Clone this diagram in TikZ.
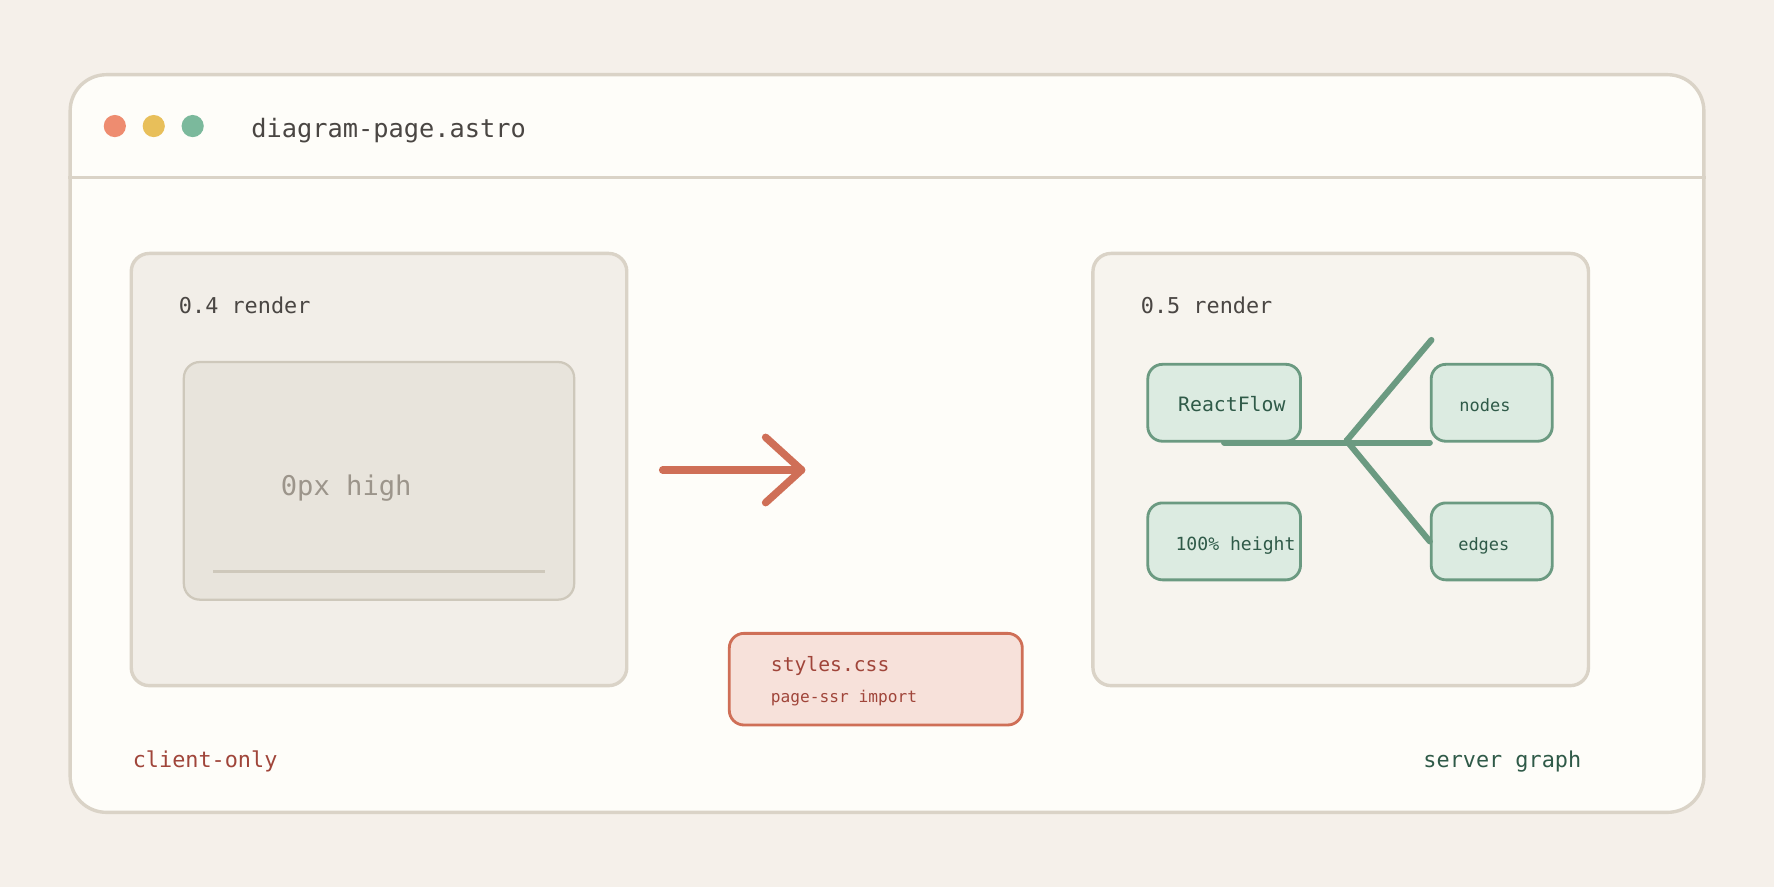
\documentclass[tikz,border=0pt]{standalone}
\usepackage{fontspec}
\setmonofont{DejaVu Sans Mono}
\usetikzlibrary{positioning,calc}

\definecolor{bg}{HTML}{F5F0EA}
\definecolor{paper}{HTML}{FEFDF9}
\definecolor{rim}{HTML}{DAD3C7}
\definecolor{panelL}{HTML}{F2EEE8}
\definecolor{panelR}{HTML}{F7F4EE}
\definecolor{shell}{HTML}{E8E4DC}
\definecolor{shellrim}{HTML}{CEC8BB}
\definecolor{ghost}{HTML}{9C958B}
\definecolor{ink}{HTML}{4A4643}
\definecolor{rust}{HTML}{CF6F57}
\definecolor{rustfill}{HTML}{F7E1DA}
\definecolor{rustink}{HTML}{A0453A}
\definecolor{sage}{HTML}{6B9A81}
\definecolor{sagefill}{HTML}{DCEBE1}
\definecolor{sageink}{HTML}{2F5A48}
\definecolor{dotred}{HTML}{EE8C70}
\definecolor{dotyel}{HTML}{E8BF5A}
\definecolor{dotgrn}{HTML}{7BB99C}

\newcommand{\mono}[1]{\ttfamily\fontsize{#1}{#1}\selectfont}

\tikzstyle{win} = [rectangle, draw=rim, fill=paper, line width=1.5pt,
    rounded corners=16pt, inner sep=0pt, minimum width=722pt, minimum height=326pt]
\tikzstyle{panel} = [rectangle, draw=rim, line width=1.5pt,
    rounded corners=8pt, inner sep=0pt, minimum width=219pt, minimum height=191pt]
\tikzstyle{gbox} = [rectangle, draw=sage, fill=sagefill, line width=1.25pt,
    rounded corners=6.5pt, inner sep=0pt, minimum height=34pt]
\tikzstyle{dot} = [circle, inner sep=0pt, minimum size=9.8pt]
\tikzstyle{lbl} = [anchor=base west, inner sep=0pt, text=ink, font=\mono{9.65}]
\tikzstyle{gtxt} = [anchor=base west, inner sep=0pt, text=sageink]

\begin{document}
\begin{tikzpicture}[x=0.5pt,y=-0.5pt,line cap=round,line join=round,
                    branch/.style={draw=sage,line width=2.7pt}]

  \useasboundingbox (0,0) rectangle (1568,784);
  \fill[bg] (0,0) rectangle (1568,784);

  \node[win]                  (window) at (784,392) {};
  \draw[rim,line width=1.5pt,line cap=butt] (window.west |- 0,157) -- (window.east |- 0,157);

  \node[dot,fill=dotred]      (close) at (101.5,111.4) {};
  \node[dot,fill=dotyel]      (mini)  [right=7pt of close] {};
  \node[dot,fill=dotgrn]      (zoom)  [right=7pt of mini] {};
  \node[lbl,font=\mono{11.2}] (title) at (221.7,121.4) {diagram-page.astro};

  \node[panel,fill=panelL]    (old) at (335,415) {};
  \node[panel,fill=panelR]    (new) at (1185,415) {};
  \node[lbl]                  (oldlab) at (157.8,277.5) {0.4 render};
  \node[lbl]                  (newlab) at (1008,277.5) {0.5 render};

  \node[rectangle,draw=shellrim,fill=shell,line width=1pt,rounded corners=7pt,
        minimum width=172.5pt,minimum height=105pt] (shell) at (335,425) {};
  \node[lbl,text=ghost,font=\mono{12}] (zero) at (247.8,438) {0px high};
  \draw[shellrim,line width=1.3pt,line cap=butt] ($(shell.south west)+(27,-26)$) -- ($(shell.south east)+(-27,-26)$);

  \coordinate (a0) at (585.7,415.4);
  \coordinate (a1) at (708.5,415.4);
  \draw[rust,line width=3.3pt] (a0) -- (a1);
  \draw[rust,line width=3.3pt] ($(a1)+(-31.8,-28.9)$) -- (a1) -- ($(a1)+(-31.8,28.9)$);

  \node[rectangle,draw=rust,fill=rustfill,line width=1.25pt,rounded corners=6.5pt,
        minimum width=129.5pt,minimum height=40.5pt] (css) at (774.1,600.3) {};
  \node[lbl,text=rustink,font=\mono{8.7}]  (csslab) at (681,593.7) {styles.css};
  \node[lbl,text=rustink,font=\mono{7.15}] (cssnote) at (681,621) {page-ssr import};

  \node[gbox,minimum width=67.5pt] (rf)     at (1082,356) {};
  \node[gbox,minimum width=53.5pt] (nodes)  [right=56.5pt of rf] {};
  \node[gbox,minimum width=67.5pt] (height) [below=26pt of rf] {};
  \node[gbox,minimum width=53.5pt] (edges)  [below=26pt of nodes] {};

  \node[gtxt,font=\mono{8.75}] (rflab)     at ($(rf.west)+(27.7,7.9)$) {ReactFlow};
  \node[gtxt,font=\mono{7.5}]  (nodeslab)  at ($(nodes.west)+(25.8,7.9)$) {nodes};
  \node[gtxt,font=\mono{8}]    (heightlab) at ($(height.west)+(25.4,8)$) {100\% height};
  \node[gtxt,font=\mono{7.5}]  (edgeslab)  at ($(edges.west)+(24.8,8)$) {edges};

  \coordinate (hub)  at (1190.2,389.5);
  \coordinate (fork) at (1265.2,300.5);
  \path[branch] (rf.south) edge (nodes.south west)
  (hub) edge (fork)
  (hub) edge (edges.west);

  \node[lbl,text=rustink] (client) at (117,678) {client-only};
  \node[lbl,text=sageink,anchor=base east] (server) at (1398,678) {server graph};
\end{tikzpicture}
\end{document}
